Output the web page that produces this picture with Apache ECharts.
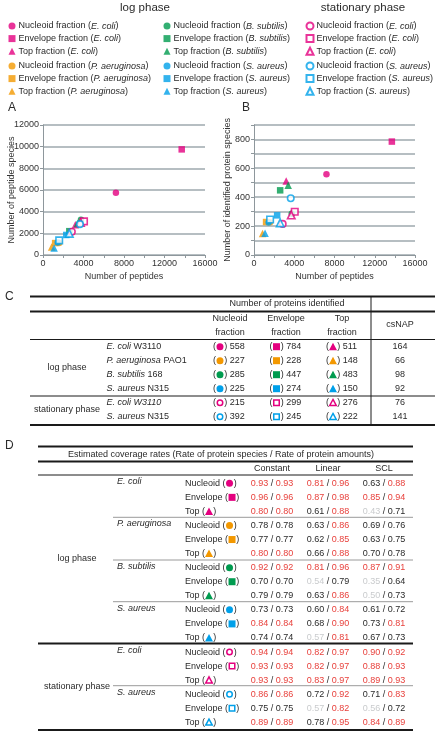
<!DOCTYPE html>
<html><head><meta charset="utf-8">
<script src="https://cdn.jsdelivr.net/npm/echarts@6/dist/echarts.min.js"></script>
<style>html,body{margin:0;padding:0;background:#fff}#c{width:435px;height:734px}</style>
</head><body><div id="c"></div>
<script>
// ================= DATA =================
const groupNames = ['E. coli', 'P. aeruginosa', 'B. subtilis', 'S. aureus', 'E. coli', 'S. aureus'];
const groupPhase = ['log', 'log', 'log', 'log', 'stationary', 'stationary'];
const strainNames = ['W3110', 'PAO1', '168', 'N315', 'W3110', 'N315'];
const strainItalic = [false, false, false, false, true, false];
const fractions = ['Nucleoid', 'Envelope', 'Top'];
const phaseHeaders = ['log phase', 'stationary phase'];

// panel A / B (x = number of peptides)
const peptidesNucleoid = [7200, 1600, 3750, 1450, 2850, 3650];
const peptidesEnvelope = [13700, 1200, 2600, 2300, 4050, 1600];
const peptidesTop = [3200, 850, 3400, 1100, 3700, 2600];
// panel A (y = number of peptide species)
const peptideSpeciesNucleoid = [5750, 1100, 3250, 1150, 2150, 2850];
const peptideSpeciesEnvelope = [9750, 1100, 2200, 1850, 3100, 1350];
const peptideSpeciesTop = [2800, 750, 2900, 650, 3000, 2000];
// panel B / table C (number of identified proteins)
const proteinsNucleoid = [558, 227, 285, 225, 215, 392];
const proteinsEnvelope = [784, 228, 447, 274, 299, 245];
const proteinsTop = [511, 148, 483, 150, 276, 222];
const csNAP = [164, 66, 98, 92, 76, 141];

// axes
const peptideAxisRange = [0, 16000];
const peptideSpeciesAxisRange = [0, 12000];
const proteinAxisRange = [0, 900];

// table D : estimated coverage rates (rows: group x fraction)
const methods = ['Constant', 'Linear', 'SCL'];
const constantSpecies = [0.93, 0.96, 0.80, 0.78, 0.77, 0.80, 0.92, 0.70, 0.79, 0.73, 0.84, 0.74, 0.94, 0.93, 0.93, 0.86, 0.75, 0.89];
const constantAmount  = [0.93, 0.96, 0.80, 0.78, 0.77, 0.80, 0.92, 0.70, 0.79, 0.73, 0.84, 0.74, 0.94, 0.93, 0.93, 0.86, 0.75, 0.89];
const linearSpecies   = [0.81, 0.87, 0.61, 0.63, 0.62, 0.66, 0.81, 0.54, 0.63, 0.60, 0.68, 0.57, 0.82, 0.82, 0.83, 0.72, 0.57, 0.78];
const linearAmount    = [0.96, 0.98, 0.88, 0.86, 0.85, 0.88, 0.96, 0.79, 0.86, 0.84, 0.90, 0.81, 0.97, 0.97, 0.97, 0.92, 0.82, 0.95];
const sclSpecies      = [0.63, 0.85, 0.43, 0.69, 0.63, 0.70, 0.87, 0.35, 0.50, 0.61, 0.73, 0.67, 0.90, 0.88, 0.89, 0.71, 0.56, 0.84];
const sclAmount       = [0.88, 0.94, 0.71, 0.76, 0.75, 0.78, 0.91, 0.64, 0.73, 0.72, 0.81, 0.73, 0.92, 0.93, 0.93, 0.83, 0.72, 0.89];

// ================= STYLE =================
const FONT = 'Liberation Sans';
const groupColors = ['#e4007f', '#f39800', '#009b4f', '#00a0e9', '#e4007f', '#00a0e9'];
const symbols = ['circle', 'rect', 'triangle'];
const RED = '#e8413c', GRAY = '#c9cbcd', BLACK = '#2a2a2a';

const fracPeptides = [peptidesNucleoid, peptidesEnvelope, peptidesTop];
const fracSpecies = [peptideSpeciesNucleoid, peptideSpeciesEnvelope, peptideSpeciesTop];
const fracProteins = [proteinsNucleoid, proteinsEnvelope, proteinsTop];

function seriesName(g, f) {
  return fractions[f] + ' fraction (' + groupNames[g] + ')' + (groupPhase[g] === 'stationary' ? ' ' : '');
}
function itemStyleFor(g) {
  return groupPhase[g] === 'stationary'
    ? { color: '#fff', borderColor: groupColors[g], borderWidth: 1.6 }
    : { color: groupColors[g], borderWidth: 0 };
}

const series = [];
for (let g = 0; g < 6; g++) {
  for (let f = 0; f < 3; f++) {
    const common = {
      type: 'scatter', name: seriesName(g, f), symbol: symbols[f],
      symbolSize: f === 2 ? 7.5 : 6.5, itemStyle: itemStyleFor(g), emphasis: { disabled: true }
    };
    series.push(Object.assign({}, common, { xAxisIndex: 0, yAxisIndex: 0, data: [[fracPeptides[f][g], fracSpecies[f][g]]] }));
    series.push(Object.assign({}, common, { xAxisIndex: 1, yAxisIndex: 1, data: [[fracPeptides[f][g], fracProteins[f][g]]] }));
  }
}

// legends: 3 columns, 2 blocks each
const legendCols = [[0, 1], [2, 3], [4, 5]];
const legendLeft = [3.5, 158.5, 300.5];
const legendTop = [15, 55];
const legends = [];
legendCols.forEach((gs, c) => {
  gs.forEach((g, b) => {
    legends.push({
      orient: 'vertical', left: legendLeft[c], top: legendTop[b],
      itemWidth: 7, itemHeight: 7, itemGap: 0.6, selectedMode: false,
      data: [0, 1, 2].map(f => ({ name: seriesName(g, f), icon: symbols[f] })),
      textStyle: {
        fontSize: 9, fontFamily: FONT, color: BLACK, lineHeight: 12, padding: [0, 0, 0, -2],
        rich: { i: { fontStyle: 'italic', fontSize: 9, fontFamily: FONT, color: BLACK, lineHeight: 12 } }
      },
      formatter: n => n.trim().replace(/\((.*)\)/, '({i|$1})')
    });
  });
});

// ================= GRAPHIC HELPERS =================
const cvs = document.createElement('canvas').getContext('2d');
function tw(t, size, style) { cvs.font = (style || '') + ' ' + size + 'px "' + FONT + '"'; return cvs.measureText(t).width; }
const RICH = {
  i: { fontStyle: 'italic', fontSize: 9, fontFamily: FONT, fill: BLACK },
  r: { fontSize: 9, fontFamily: FONT, fill: RED },
  g: { fontSize: 9, fontFamily: FONT, fill: GRAY },
  k: { fontSize: 9, fontFamily: FONT, fill: BLACK }
};
function T(x, y, text, o) {
  const st = Object.assign({
    text: text, fontSize: 9, fontFamily: FONT, fill: BLACK,
    align: 'left', textAlign: 'left', verticalAlign: 'middle', textVerticalAlign: 'middle', rich: RICH
  }, o || {});
  if (o && o.align) st.textAlign = o.align;
  return { type: 'text', x: x, y: y, silent: true, style: st };
}
function L(x1, y1, x2, y2, w, c) {
  return { type: 'line', silent: true, shape: { x1, y1, x2, y2 }, style: { stroke: c || '#1a1a1a', lineWidth: w || 1 } };
}
function MK(kind, g, cx, cy, s) {
  const hollow = groupPhase[g] === 'stationary';
  const style = hollow ? { fill: '#fff', stroke: groupColors[g], lineWidth: 1.5 } : { fill: groupColors[g] };
  const q = hollow ? s - 1.5 : s;
  if (kind === 0) return { type: 'circle', silent: true, shape: { cx, cy, r: q / 2 }, style };
  if (kind === 1) return { type: 'rect', silent: true, shape: { x: cx - q / 2, y: cy - q / 2, width: q, height: q }, style };
  return { type: 'polygon', silent: true, shape: { points: [[cx, cy - q / 2 - 0.5], [cx + q / 2 + 0.5, cy + q / 2], [cx - q / 2 - 0.5, cy + q / 2]] }, style };
}
// "(marker)" with optional prefix text / suffix text
function markerLabel(els, x, y, prefix, kind, g, suffix) {
  let cx = x;
  if (prefix) { els.push(T(cx, y, prefix)); cx += tw(prefix, 9); }
  els.push(T(cx, y, '(')); cx += tw('(', 9);
  els.push(MK(kind, g, cx + 4, y, 7)); cx += 8.2;
  els.push(T(cx, y, ')')); cx += tw(')', 9);
  if (suffix) els.push(T(cx, y, suffix));
}

const gfx = [];
// headers
gfx.push(T(145, 8, phaseHeaders[0], { fontSize: 11.5, align: 'center' }));
gfx.push(T(363, 8, phaseHeaders[1], { fontSize: 11.5, align: 'center' }));
// panel letters
gfx.push(T(8, 108, 'A', { fontSize: 12 }));
gfx.push(T(242, 108, 'B', { fontSize: 12 }));
gfx.push(T(5, 297, 'C', { fontSize: 12 }));
gfx.push(T(5, 446, 'D', { fontSize: 12 }));

// ---------- Table C ----------
gfx.push(L(30, 296.5, 435, 296.5, 2));
gfx.push(L(371, 296.5, 371, 425, 1));
gfx.push(T(287, 304, 'Number of proteins identified', { align: 'center' }));
gfx.push(L(30, 311.5, 435, 311.5, 2));
const colCx = [230, 286, 342];
const colHead = [['Nucleoid', 'fraction'], ['Envelope', 'fraction'], ['Top', 'fraction']];
colHead.forEach((h, f) => { gfx.push(T(colCx[f], 318.5, h[0], { align: 'center' })); gfx.push(T(colCx[f], 332.5, h[1], { align: 'center' })); });
gfx.push(T(400, 325, 'csNAP', { align: 'center' }));
gfx.push(L(30, 339.5, 435, 339.5, 1));
gfx.push(L(30, 396, 435, 396, 1));
gfx.push(L(30, 425, 435, 425, 2));
const cellX = [213, 269.5, 326];
for (let g = 0; g < 6; g++) {
  const y = 346.7 + g * 14;
  const nm = strainItalic[g] ? '{i|' + groupNames[g] + ' ' + strainNames[g] + '}' : '{i|' + groupNames[g] + '} ' + strainNames[g];
  gfx.push(T(106.5, y, nm));
  for (let f = 0; f < 3; f++) markerLabel(gfx, cellX[f], y, '', f, g, ' ' + fracProteins[f][g]);
  gfx.push(T(400, y, String(csNAP[g]), { align: 'center' }));
}
gfx.push(T(67, 367.7, phaseHeaders[0], { align: 'center' }));
gfx.push(T(67, 410, phaseHeaders[1], { align: 'center' }));

// ---------- Table D ----------
gfx.push(L(38, 446.5, 413, 446.5, 2));
gfx.push(T(221, 455, 'Estimated coverage rates (Rate of protein species / Rate of protein amounts)', { align: 'center' }));
gfx.push(L(38, 461.5, 413, 461.5, 2));
const methX = [272, 328, 384];
methods.forEach((m, k) => gfx.push(T(methX[k], 468.5, m, { align: 'center' })));
gfx.push(L(38, 475, 413, 475, 1));
const cov = [[constantSpecies, constantAmount], [linearSpecies, linearAmount], [sclSpecies, sclAmount]];
function ck(v) { return v >= 0.8 ? 'r' : (v < 0.6 ? 'g' : 'k'); }
const rowY = i => 483.3 + i * 14.06;
for (let i = 0; i < 18; i++) {
  const g = Math.floor(i / 3), f = i % 3;
  const y = rowY(i);
  if (f === 0) gfx.push(T(117, y - 1.5, '{i|' + groupNames[g] + '}'));
  markerLabel(gfx, 185, y, fractions[f] + ' ', f, g, '');
  for (let k = 0; k < 3; k++) {
    const a = cov[k][0][i], b = cov[k][1][i];
    gfx.push(T(methX[k], y, '{' + ck(a) + '|' + a.toFixed(2) + '}{k| / }{' + ck(b) + '|' + b.toFixed(2) + '}', { align: 'center' }));
  }
}
[517.3, 560, 601.7, 685.7].forEach(y => gfx.push(L(113, y, 413, y, 1, '#9a9a9a')));
gfx.push(L(38, 643.5, 413, 643.5, 1.8));
gfx.push(L(38, 730, 413, 730, 2));
gfx.push(T(77, 559, phaseHeaders[0], { align: 'center' }));
gfx.push(T(77, 687, phaseHeaders[1], { align: 'center' }));

// ================= CHART =================
const axisCommon = {
  axisLine: { show: true, lineStyle: { color: '#8e979c', width: 1 } },
  axisTick: { show: true, length: 3, lineStyle: { color: '#8e979c' } },
  axisLabel: { fontSize: 9, fontFamily: FONT, color: '#333', margin: 4, formatter: v => String(v) },
  nameTextStyle: { fontSize: 9, fontFamily: FONT, color: '#333' },
  nameLocation: 'middle',
  nameMoveOverlap: false
};
const splitCommon = { show: true, lineStyle: { color: '#9ea8ae', width: 1.5 } };
function xAx(gi) {
  return Object.assign({}, axisCommon, {
    type: 'value', gridIndex: gi, min: peptideAxisRange[0], max: peptideAxisRange[1], interval: 2000,
    name: 'Number of peptides', nameGap: 17, splitLine: { show: false },
    axisLabel: Object.assign({}, axisCommon.axisLabel, { formatter: v => (v % 4000 === 0 ? String(v) : '') })
  });
}
const option = {
  animation: false,
  textStyle: { fontFamily: FONT },
  legend: legends,
  grid: [
    { left: 43, top: 125, width: 162, height: 130 },
    { left: 254, top: 124.8, width: 161, height: 130.2 }
  ],
  xAxis: [xAx(0), xAx(1)],
  yAxis: [
    Object.assign({}, axisCommon, {
      type: 'value', gridIndex: 0, min: peptideSpeciesAxisRange[0], max: peptideSpeciesAxisRange[1], interval: 2000,
      name: 'Number of peptide species', nameGap: 27, splitLine: splitCommon
    }),
    Object.assign({}, axisCommon, {
      type: 'value', gridIndex: 1, min: proteinAxisRange[0], max: proteinAxisRange[1], interval: 100,
      name: 'Number of identified protein species', nameGap: 22, splitLine: splitCommon,
      axisLabel: Object.assign({}, axisCommon.axisLabel, { formatter: v => (v % 200 === 0 ? String(v) : '') })
    })
  ],
  series: series,
  graphic: { elements: gfx }
};
const chart = echarts.init(document.getElementById('c'), null, { renderer: 'canvas' });
chart.setOption(option);
</script></body></html>
